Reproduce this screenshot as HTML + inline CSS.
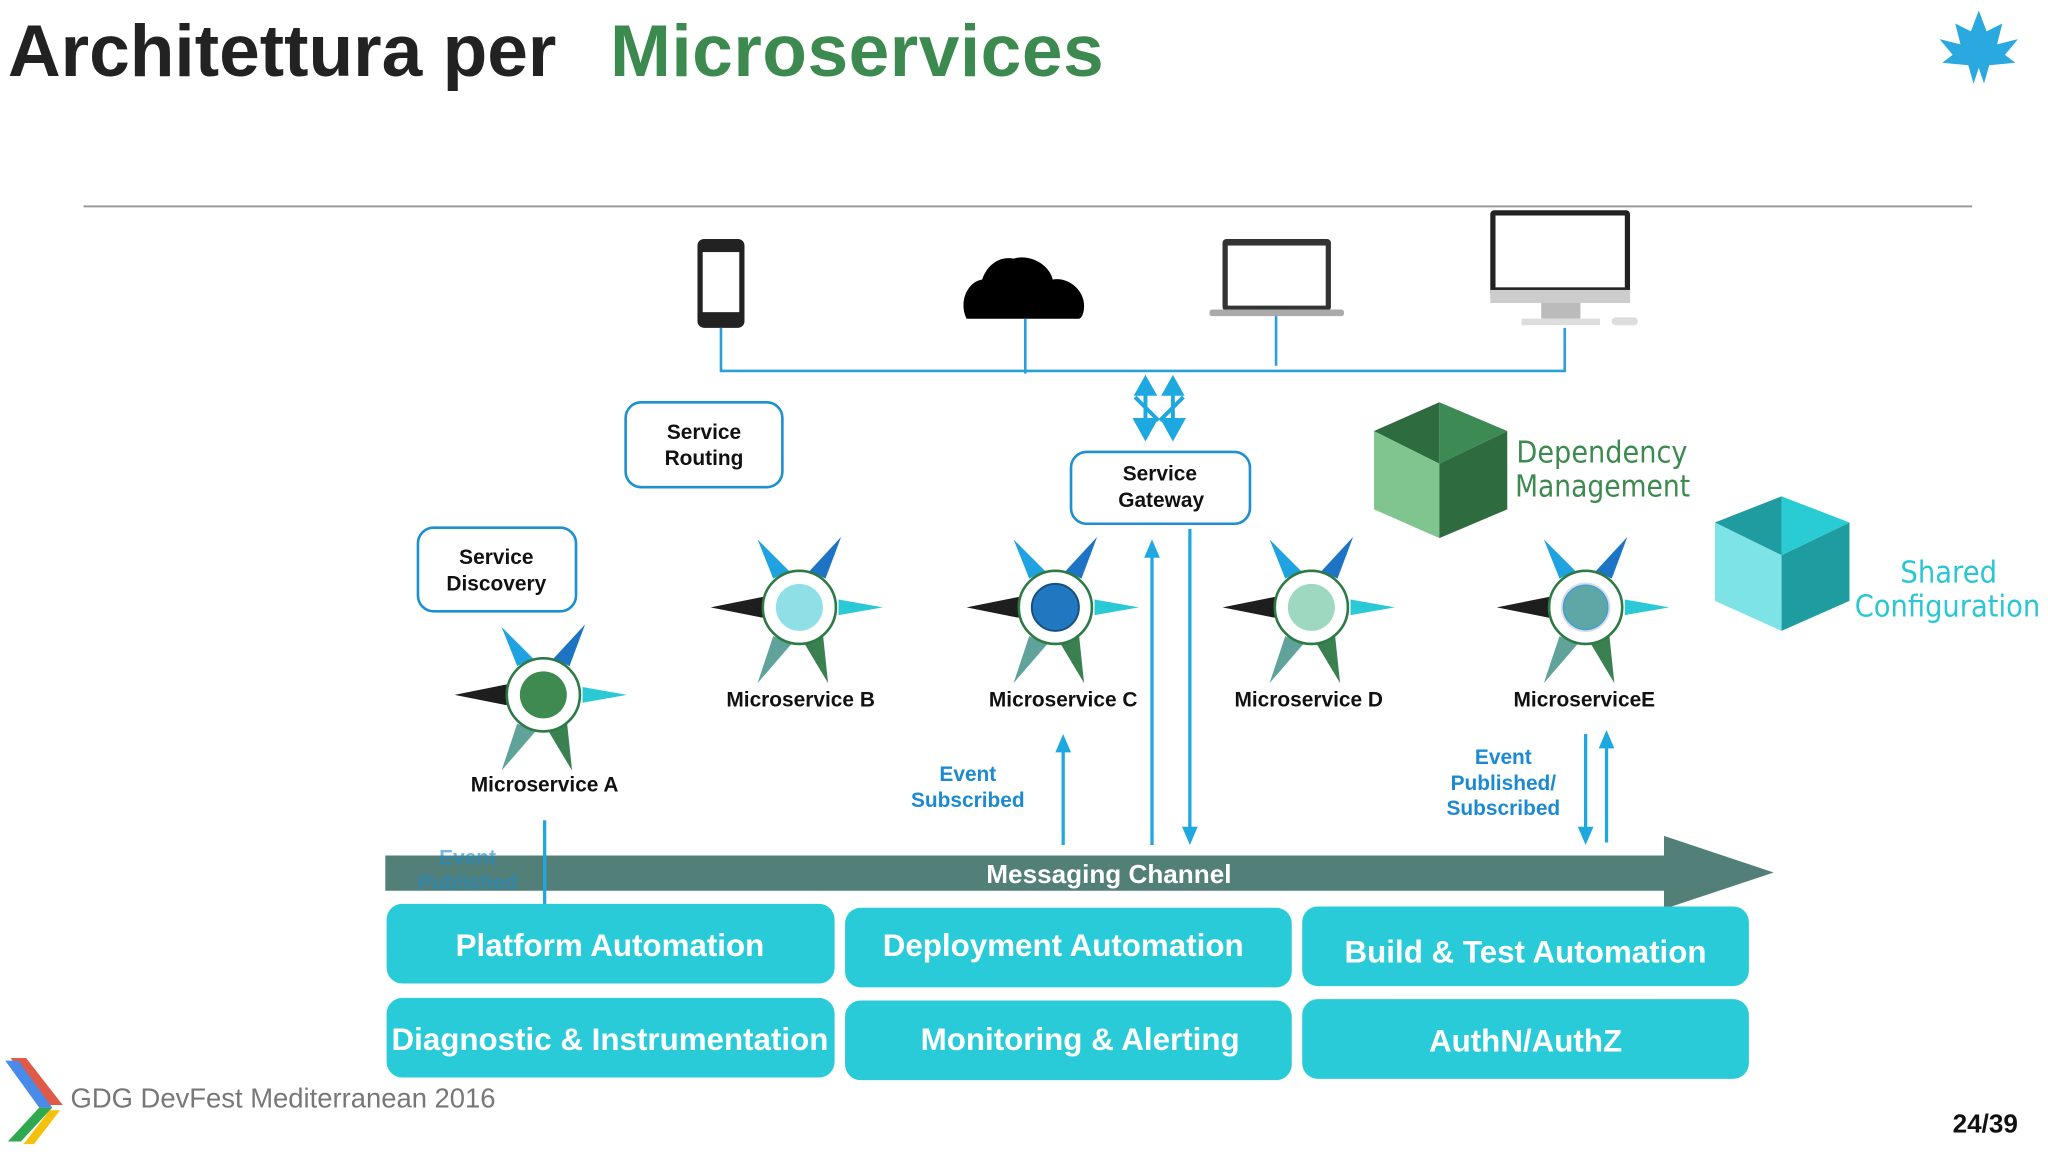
<!DOCTYPE html>
<html><head><meta charset="utf-8"><style>
html,body{margin:0;padding:0;background:#fff;width:2048px;height:1152px;overflow:hidden}
svg{display:block}
text{font-family:"Liberation Sans",Arial,sans-serif}
</style></head><body>
<svg width="2048" height="1152" viewBox="0 0 1568 882" xmlns="http://www.w3.org/2000/svg">
<defs>
<g id="spikes">
<polygon points="-68,0 -28,-8 -28,8" fill="#1e1e1e"/>
<polygon points="64,0 30,-6 30,6" fill="#2bc9d6"/>
<polygon points="-32,-52 -20,-22 -8,-28" fill="#1ea2e0"/>
<polygon points="32,-54 8,-28 20,-22" fill="#1e74c4"/>
<polygon points="-32,58 -20,22 -6,28" fill="#5fa39a"/>
<polygon points="22,58 4,28 18,20" fill="#3a8050"/>
<circle r="28" fill="#fff" stroke="#2e7a46" stroke-width="2"/>
</g>
</defs>
<rect width="1568" height="882" fill="#fff"/>
<text x="6" y="58" font-size="56" font-weight="bold" fill="#222">Architettura per</text>
<text x="467" y="58" font-size="56" font-weight="bold" fill="#3d8a50" textLength="378">Microservices</text>
<g transform="translate(1515,38)" fill="#2aa8e0">
<polygon points="0,-30 6,-14 18,-20 14,-4 30,-8 20,4 28,10 8,12 4,26 0,14 -4,26 -8,12 -28,10 -20,4 -30,-8 -14,-4 -18,-20 -6,-14"/>
</g>
<line x1="64" y1="158" x2="1510" y2="158" stroke="#9a9a9a" stroke-width="1.5"/>
<rect x="534" y="183" width="36" height="68" rx="5" fill="#222"/>
<rect x="538" y="193" width="28" height="46" fill="#fff"/>
<path d="M740,244 C734,232 740,216 752,214 C756,202 766,196 776,198 C790,194 804,204 806,214 C818,212 830,222 830,234 C830,240 828,244 826,244 Z" fill="#000"/>
<rect x="936" y="183" width="83" height="55" rx="3" fill="#333"/>
<rect x="940" y="188" width="75" height="46" fill="#fff"/>
<rect x="926" y="237" width="103" height="5" rx="2" fill="#aaa"/>
<rect x="1141" y="161" width="107" height="66" rx="3" fill="#222"/>
<rect x="1145" y="165" width="99" height="55" fill="#fff"/>
<rect x="1141" y="222" width="107" height="10" fill="#ccc"/>
<rect x="1180" y="232" width="30" height="12" fill="#bbb"/>
<rect x="1165" y="244" width="60" height="5" fill="#ddd"/>
<rect x="1234" y="243" width="20" height="6" rx="3" fill="#ddd"/>
<g stroke="#2aa0d8" stroke-width="2" fill="none">
<polyline points="552,251 552,284 1198,284 1198,251"/>
<line x1="785" y1="244" x2="785" y2="286"/>
<line x1="977" y1="242" x2="977" y2="280"/>
</g>
<g stroke="#1ea8e0" stroke-width="3" fill="#1ea8e0">
<line x1="877" y1="295" x2="877" y2="328"/>
<line x1="898" y1="295" x2="898" y2="328"/>
<line x1="869" y1="304" x2="887" y2="322"/>
<line x1="906" y1="304" x2="888" y2="322"/>
</g>
<g fill="#1ea8e0">
<polygon points="877,287 868,303 886,303"/>
<polygon points="898,287 889,303 907,303"/>
<polygon points="877,338 867,320 887,320"/>
<polygon points="898,338 888,320 908,320"/>
</g>
<g fill="#fff" stroke="#1e8fcf" stroke-width="2">
<rect x="479" y="308" width="120" height="65" rx="12"/>
<rect x="320" y="404" width="121" height="64" rx="12"/>
<rect x="820" y="346" width="137" height="55" rx="12"/>
</g>
<g font-size="16" font-weight="bold" fill="#111" text-anchor="middle">
<text x="539" y="336">Service</text><text x="539" y="356">Routing</text>
<text x="380" y="432">Service</text><text x="380" y="452">Discovery</text>
<text x="888" y="368">Service</text><text x="889" y="388">Gateway</text>
</g>
<polygon points="1052,330 1102,355 1102,412 1052,390" fill="#80c490"/>
<polygon points="1102,355 1154,330 1154,390 1102,412" fill="#2e6b3f"/>
<polygon points="1052,330 1102,308 1102,355" fill="#2e6b3f"/>
<polygon points="1102,308 1154,330 1102,355" fill="#3d8a55"/>
<polygon points="1313,400 1364,425 1364,483 1313,460" fill="#7de3e6"/>
<polygon points="1364,425 1416,400 1416,460 1364,483" fill="#1e9ca0"/>
<polygon points="1313,400 1364,380 1364,425" fill="#1e9ca0"/>
<polygon points="1364,380 1416,400 1364,425" fill="#2accd4"/>
<g font-size="23" style="font-family:'DejaVu Sans',sans-serif">
<text x="1161" y="354" fill="#3d8a50" textLength="131" lengthAdjust="spacingAndGlyphs" style="font-family:'DejaVu Sans',sans-serif">Dependency</text>
<text x="1160" y="380" fill="#3d8a50" textLength="134" lengthAdjust="spacingAndGlyphs" style="font-family:'DejaVu Sans',sans-serif">Management</text>
<text x="1455" y="446" fill="#2bc6d4" textLength="74" lengthAdjust="spacingAndGlyphs" style="font-family:'DejaVu Sans',sans-serif">Shared</text>
<text x="1420" y="472" fill="#2bc6d4" textLength="142" lengthAdjust="spacingAndGlyphs" style="font-family:'DejaVu Sans',sans-serif">Configuration</text>
</g>
<g transform="translate(416,532)"><use href="#spikes"/><circle r="18" fill="#3e8a50"/></g>
<g transform="translate(612,465)"><use href="#spikes"/><circle r="18" fill="#8fe0e6"/></g>
<g transform="translate(808,465)"><use href="#spikes"/><circle r="18" fill="#1f78c0" stroke="#174f80" stroke-width="1.5"/></g>
<g transform="translate(1004,465)"><use href="#spikes"/><circle r="18" fill="#9fd8c0"/></g>
<g transform="translate(1214,465)"><use href="#spikes"/><circle r="19" fill="#ddd"/><circle r="17" fill="#5fa6a6" stroke="#3aa0e0" stroke-width="1"/></g>
<g font-size="16" font-weight="bold" fill="#111" text-anchor="middle">
<text x="417" y="606">Microservice A</text>
<text x="613" y="541">Microservice B</text>
<text x="814" y="541">Microservice C</text>
<text x="1002" y="541">Microservice D</text>
<text x="1213" y="541">MicroserviceE</text>
</g>
<polygon points="295,655 1274,655 1274,640 1358,668 1274,696 1274,682 295,682" fill="#528078"/>
<text x="849" y="676" font-size="20" font-weight="bold" fill="#fff" text-anchor="middle">Messaging Channel</text>
<g font-size="16" font-weight="bold" fill="#1c8ad0" text-anchor="middle">
<text x="358" y="662" opacity="0.6">Event</text><text x="358" y="681" opacity="0.6">Published</text>
<text x="741" y="598">Event</text><text x="741" y="618">Subscribed</text>
<text x="1151" y="585">Event</text><text x="1151" y="605">Published/</text><text x="1151" y="624">Subscribed</text>
</g>
<g stroke="#1ea8e0" stroke-width="2.5">
<line x1="417" y1="628" x2="417" y2="702"/>
<line x1="814" y1="575" x2="814" y2="647"/>
<line x1="882" y1="426" x2="882" y2="647"/>
<line x1="911" y1="405" x2="911" y2="636"/>
<line x1="1214" y1="562" x2="1214" y2="636"/>
<line x1="1230" y1="572" x2="1230" y2="645"/>
</g>
<g fill="#1ea8e0">
<polygon points="417,713 411,700 423,700"/>
<polygon points="814,562 808,576 820,576"/>
<polygon points="882,413 876,427 888,427"/>
<polygon points="911,647 905,633 917,633"/>
<polygon points="1214,647 1208,633 1220,633"/>
<polygon points="1230,559 1224,573 1236,573"/>
</g>
<g fill="#29cbd8">
<rect x="296" y="692" width="343" height="61" rx="12"/>
<rect x="647" y="695" width="342" height="61" rx="12"/>
<rect x="997" y="694" width="342" height="61" rx="12"/>
<rect x="296" y="764" width="343" height="61" rx="12"/>
<rect x="647" y="766" width="342" height="61" rx="12"/>
<rect x="997" y="765" width="342" height="61" rx="12"/>
</g>
<g font-size="24" font-weight="bold" fill="#fff" text-anchor="middle">
<text x="467" y="732">Platform Automation</text>
<text x="814" y="732">Deployment Automation</text>
<text x="1168" y="737">Build &amp; Test Automation</text>
<text x="467" y="804">Diagnostic &amp; Instrumentation</text>
<text x="827" y="804">Monitoring &amp; Alerting</text>
<text x="1168" y="805">AuthN/AuthZ</text>
</g>
<polygon points="8,810 20,810 48,846 36,846" fill="#e05a4a"/>
<polygon points="4,812 14,812 40,848 30,848" fill="#4a8ae8"/>
<polygon points="30,848 40,848 16,874 6,874" fill="#2fa84f"/>
<polygon points="38,850 46,850 26,876 18,876" fill="#f4c20d"/>
<text x="54" y="848" font-size="21" fill="#777">GDG DevFest Mediterranean 2016</text>
<text x="1545" y="867" font-size="20" font-weight="bold" fill="#111" text-anchor="end">24/39</text>
</svg>
</body></html>
